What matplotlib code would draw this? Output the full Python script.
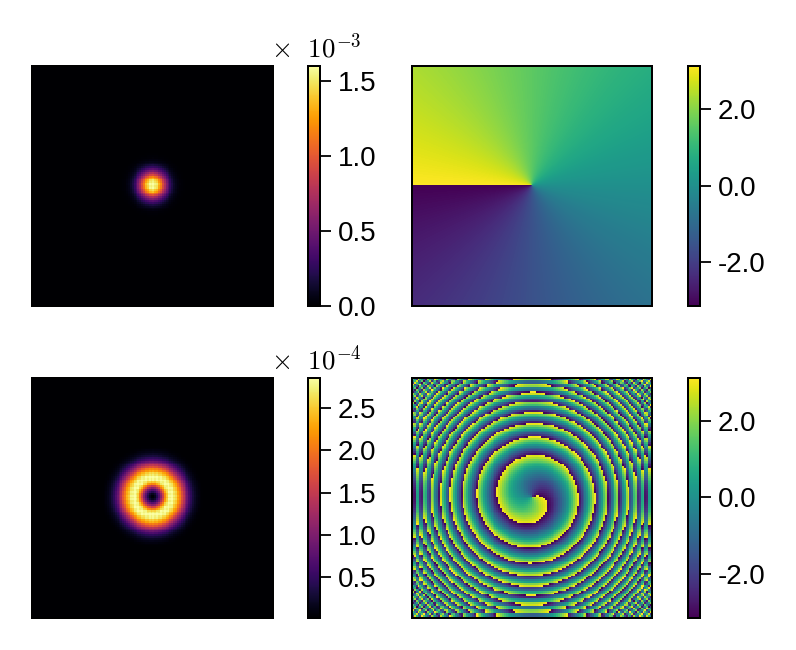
import matplotlib
matplotlib.use("Agg")
import matplotlib.pyplot as plt
import numpy as np
from matplotlib.ticker import FormatStrFormatter

plt.rcParams["font.family"] = ["Liberation Sans", "DejaVu Sans"]
plt.rcParams["mathtext.fontset"] = "cm"

GRID_SIZE = 128
BOX_SIZE = 240.0

# intensity against radius, in units of the panel's multiplier
SPOT_RADIUS = [0, 2, 4, 6, 8, 10, 12, 14, 16, 18, 20, 22, 24, 26, 28, 32, 40]
SPOT_INTENSITY = [1.58, 1.57, 1.53, 1.40, 1.20, 0.98, 0.76, 0.56, 0.40, 0.27,
                  0.17, 0.10, 0.06, 0.035, 0.018, 0.005, 0.0]
RING_RADIUS = [0, 2, 4, 6, 8, 10, 12, 14, 16, 18, 20, 22, 24, 26, 28, 30, 32, 34,
               36, 38, 40, 42, 44, 46, 48, 52, 60]
RING_INTENSITY = [0.0, 0.07, 0.26, 0.58, 0.95, 1.45, 2.00, 2.50, 2.76, 2.83, 2.82,
                  2.70, 2.50, 2.25, 1.95, 1.60, 1.28, 0.98, 0.72, 0.50, 0.34,
                  0.22, 0.14, 0.09, 0.05, 0.015, 0.0]

# spiral phase: curvature per squared radius, plus an offset that drifts near the core
SPIRAL_CURVATURE = 0.00349
OFFSET_RADIUS = [0, 10, 26, 40, 400]
OFFSET_PHASE = [2.9, 2.8, 2.3, 1.9, 1.9]
# the wave wraps around the periodic box, its copies overlap towards the edges
WRAP_WIDTH = 100.0

# fine lattice ripple on the intensity maps
RIPPLE = 0.03

SPOT_RANGE = (0.0, 1.607)
RING_RANGE = (0.015, 2.867)
PHASE_RANGE = (-np.pi, np.pi)

SPOT_TICKS = [0.0, 0.5, 1.0, 1.5]
RING_TICKS = [0.5, 1.0, 1.5, 2.0, 2.5]
PHASE_TICKS = [-2.0, 0.0, 2.0]

FIG_W, FIG_H = 796, 650


def px_axes(fig, left, top, right, bottom):
    return fig.add_axes([left / FIG_W, 1 - bottom / FIG_H,
                         (right - left) / FIG_W, (bottom - top) / FIG_H])


def draw_panel(fig, box, cbar_x, field, cmap, vrange, ticks):
    left, top, right, bottom = box
    ax = px_axes(fig, left, top, right, bottom)
    im = ax.imshow(field, origin="lower", cmap=cmap, vmin=vrange[0], vmax=vrange[1],
                   interpolation="nearest", aspect="auto")
    ax.set_xticks([])
    ax.set_yticks([])
    for spine in ax.spines.values():
        spine.set_linewidth(1.44)

    cax = px_axes(fig, cbar_x, top, cbar_x + 12, bottom)
    cbar = fig.colorbar(im, cax=cax, ticks=ticks,
                        format=FormatStrFormatter("%.1f"))
    cbar.outline.set_linewidth(1.44)
    cbar.ax.tick_params(labelsize=20, length=8, width=1.3, pad=5)
    return ax


def grid_centers(size):
    return (np.arange(size) - (size - 1) / 2) * BOX_SIZE / size


def spiral_phase(x, y):
    wave = np.zeros_like(x, dtype=complex)
    for shift_x in (-BOX_SIZE, 0.0, BOX_SIZE):
        for shift_y in (-BOX_SIZE, 0.0, BOX_SIZE):
            px, py = x - shift_x, y - shift_y
            r = np.hypot(px, py)
            offset = np.interp(r, OFFSET_RADIUS, OFFSET_PHASE)
            phase = np.arctan2(py, px) + SPIRAL_CURVATURE * r ** 2 + offset
            wave += np.exp(-(r / WRAP_WIDTH) ** 2) * np.exp(1j * phase)
    return np.angle(wave)


def main() -> None:
    x, y = np.meshgrid(grid_centers(GRID_SIZE), grid_centers(GRID_SIZE))
    radius = np.hypot(x, y)

    i, j = np.meshgrid(np.arange(GRID_SIZE), np.arange(GRID_SIZE))
    ripple = 1 + RIPPLE * (np.cos(np.pi * i) + np.cos(np.pi * j)) / 2

    spot = np.interp(radius, SPOT_RADIUS, SPOT_INTENSITY) * ripple
    ring = np.interp(radius, RING_RADIUS, RING_INTENSITY) * ripple
    spiral = spiral_phase(x, y)

    # the plain vortex phase is drawn on a finer grid
    fine = np.linspace(-1, 1, 480)
    fx, fy = np.meshgrid(fine, fine)
    vortex = np.arctan2(fy, fx)

    fig = plt.figure(figsize=(FIG_W / 100, FIG_H / 100), dpi=100)

    draw_panel(fig, (31.5, 65.5, 272.5, 305.5), 308, spot, "inferno", SPOT_RANGE, SPOT_TICKS)
    draw_panel(fig, (412, 65.5, 652, 305.5), 688, vortex, "viridis", PHASE_RANGE, PHASE_TICKS)
    draw_panel(fig, (31.5, 377.5, 272.5, 617.5), 308, ring, "inferno", RING_RANGE, RING_TICKS)
    draw_panel(fig, (412, 377.5, 652, 617.5), 688, spiral, "viridis", PHASE_RANGE, PHASE_TICKS)

    fig.text(271 / FIG_W, 1 - 57 / FIG_H, r"$\times\ \ 10^{-3}$", fontsize=19.5, va="baseline")
    fig.text(271 / FIG_W, 1 - 369 / FIG_H, r"$\times\ \ 10^{-4}$", fontsize=19.5, va="baseline")

    fig.savefig("out.png", dpi=100)


if __name__ == "__main__":
    main()
